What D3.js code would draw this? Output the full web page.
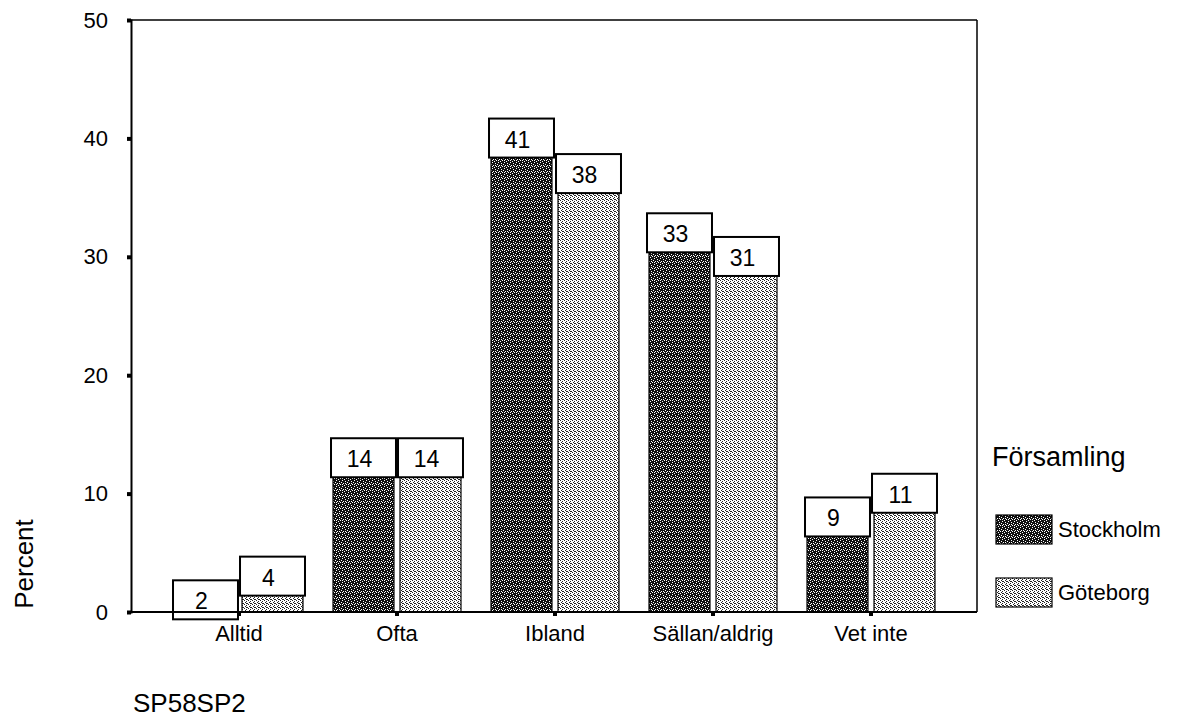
<!DOCTYPE html>
<html><head><meta charset="utf-8">
<script src="https://cdn.jsdelivr.net/npm/d3@7"></script>
<style>body{margin:0;background:#fff}svg{display:block;font-family:Arial,"Liberation Sans",sans-serif}</style>
</head><body>
<svg id="chart" width="1179" height="720"></svg>
<script>
const categories = ["Alltid", "Ofta", "Ibland", "Sällan/aldrig", "Vet inte"];
const seriesNames = ["Stockholm", "Göteborg"];
const stockholmValues = [2, 14, 41, 33, 9];
const goteborgValues = [4, 14, 38, 31, 11];
const yTickValues = [0, 10, 20, 30, 40, 50];
const legendTitle = "Församling";
const yTitle = "Percent";
const xTitle = "SP58SP2";

(function(){
const FONT = "Arial, 'Liberation Sans', sans-serif";
const svg = d3.select("#chart");
const defs = svg.append("defs");

const pd = defs.append("pattern").attr("id","pDark").attr("width",6).attr("height",6).attr("patternUnits","userSpaceOnUse");
pd.append("rect").attr("width",6).attr("height",6).attr("fill","#111");
[[0,0],[3,1],[1,3],[4,4],[2,5],[5,2],[0,4],[3,3]].forEach(([a,b])=>pd.append("rect").attr("x",a).attr("y",b).attr("width",1).attr("height",1).attr("fill","#fff"));
const pl = defs.append("pattern").attr("id","pLight").attr("width",4).attr("height",4).attr("patternUnits","userSpaceOnUse");
pl.append("rect").attr("width",4).attr("height",4).attr("fill","#fff");
[[0,0],[2,1],[1,2],[3,3],[2,3]].forEach(([a,b])=>pl.append("rect").attr("x",a).attr("y",b).attr("width",1).attr("height",1).attr("fill","#222"));
const fills = {"Stockholm":"url(#pDark)","Göteborg":"url(#pLight)"};

const pLeft = 131, pRight = 977, pTop = 20, pBottom = 612;
const x = d3.scaleBand().domain(categories).range([160, 950]).paddingInner(0).paddingOuter(0);
const x1 = d3.scaleBand().domain(seriesNames).range([0, x.bandwidth()]).paddingInner(0.09).paddingOuter(0.224);
const y = d3.scaleLinear().domain([0, 50]).range([pBottom, pTop]);

svg.append("line").attr("x1",pLeft).attr("x2",pRight).attr("y1",pTop).attr("y2",pTop).attr("stroke","#000").attr("stroke-width",1.5);
svg.append("line").attr("x1",pRight).attr("x2",pRight).attr("y1",pTop).attr("y2",pBottom).attr("stroke","#000").attr("stroke-width",1.5);

const data = [];
categories.forEach((c,i)=>{
  data.push({cat:c, s:"Stockholm", v:stockholmValues[i]});
  data.push({cat:c, s:"Göteborg", v:goteborgValues[i]});
});

const g = svg.append("g");
g.selectAll("rect.bar").data(data).join("rect").attr("class","bar")
  .attr("x", d=>x(d.cat)+x1(d.s)).attr("width", x1.bandwidth())
  .attr("y", d=>y(d.v)).attr("height", d=>pBottom-y(d.v))
  .attr("fill", d=>fills[d.s]).attr("stroke","#000").attr("stroke-width",1.2);

const boxes = g.selectAll("g.lbl").data(data).join("g").attr("class","lbl");
boxes.append("rect")
  .attr("x", d=>x(d.cat)+x1(d.s)-2).attr("width", x1.bandwidth()+4)
  .attr("y", d=>y(d.v)-8).attr("height", 39)
  .attr("fill","#fff").attr("stroke","#000").attr("stroke-width",2);
boxes.append("text")
  .attr("x", d=>x(d.cat)+x1(d.s)+x1.bandwidth()/2-4).attr("y", d=>y(d.v)+21)
  .attr("text-anchor","middle").attr("font-size",23).attr("font-family",FONT).attr("fill","#000").text(d=>d.v);

const yAxis = svg.append("g").attr("transform",`translate(${pLeft},0)`)
  .call(d3.axisLeft(y).tickValues(yTickValues).tickSize(4).tickPadding(19));
yAxis.select(".domain").attr("stroke","#000").attr("stroke-width",2);
yAxis.selectAll(".tick line").attr("stroke","#000").attr("stroke-width",4);
yAxis.selectAll(".tick text").attr("font-size",22).attr("fill","#000").attr("font-family",FONT);

const xAxis = svg.append("g").attr("transform",`translate(0,${pBottom})`)
  .call(d3.axisBottom(x).tickSize(4).tickPadding(9).tickSizeOuter(0));
xAxis.select(".domain").attr("stroke","#000").attr("stroke-width",2).attr("d",`M${pLeft},0H${pRight}`);
xAxis.selectAll(".tick line").attr("stroke","#000").attr("stroke-width",4);
xAxis.selectAll(".tick text").attr("font-size",22).attr("fill","#000").attr("font-family",FONT);

svg.append("text").attr("transform","translate(33,564) rotate(-90)").attr("text-anchor","middle")
  .attr("font-size",26).attr("font-family",FONT).attr("fill","#000").text(yTitle);
svg.append("text").attr("x",133).attr("y",712).attr("font-size",26).attr("font-family",FONT).attr("fill","#000").text(xTitle);

svg.append("text").attr("x",992).attr("y",466).attr("font-size",27).attr("font-family",FONT).attr("fill","#000").text(legendTitle);
const leg = svg.append("g").selectAll("g").data(seriesNames).join("g")
  .attr("transform",(d,i)=>`translate(996,${515+i*63})`);
leg.append("rect").attr("width",56).attr("height",29).attr("fill",d=>fills[d]).attr("stroke","#000").attr("stroke-width",1.2);
leg.append("text").attr("x",62).attr("y",22).attr("font-size",22).attr("font-family",FONT).attr("fill","#000").text(d=>d);
})();
</script>
</body></html>
